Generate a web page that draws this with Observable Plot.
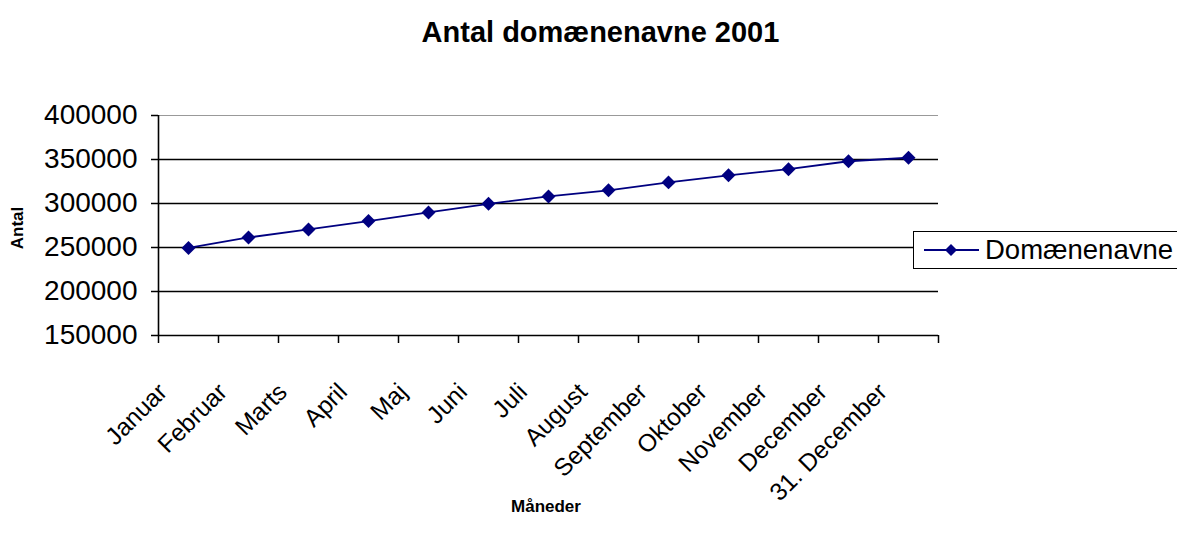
<!DOCTYPE html>
<html>
<head>
<meta charset="utf-8">
<script src="https://cdn.jsdelivr.net/npm/d3@7"></script>
<script src="https://cdn.jsdelivr.net/npm/@observablehq/plot@0.6"></script>
<style>
  body { margin: 0; background: #fff; font-family: "Liberation Sans", Arial, sans-serif; }
  #wrap { position: relative; width: 1177px; height: 545px; overflow: hidden; background: #fff; }
  #chart { position: absolute; left: 0; top: 0; }
  #title { position: absolute; left: 0; width: 1201px; top: 16px; text-align: center; font-weight: bold; font-size: 29px; color: #000; }
  #ytitle { position: absolute; left: 18px; top: 228px; transform: translate(-50%, -50%) rotate(-90deg); font-weight: bold; font-size: 17px; white-space: nowrap; }
  #xtitle { position: absolute; left: 0; width: 1092px; top: 497px; text-align: center; font-weight: bold; font-size: 17px; }
  #legend { position: absolute; left: 913px; top: 231px; width: 290px; height: 36px; border: 1.5px solid #000; background: #fff; }
  #legend svg { position: absolute; left: 9px; top: 7px; }
  #legend span { position: absolute; left: 71px; top: 2px; font-size: 27.5px; white-space: nowrap; }
</style>
</head>
<body>
<div id="wrap">
  <div id="chart"></div>
  <div id="title">Antal domænenavne 2001</div>
  <div id="ytitle">Antal</div>
  <div id="xtitle">Måneder</div>
  <div id="legend">
    <svg width="58" height="22"><line x1="1" x2="56" y1="11" y2="11" stroke="#000080" stroke-width="2"/><path d="M28,5L34,11L28,17L22,11Z" fill="#000080"/></svg>
    <span id="legendText"></span>
  </div>
</div>
<script>
const months = ["Januar", "Februar", "Marts", "April", "Maj", "Juni", "Juli", "August", "September", "Oktober", "November", "December", "31. December"];
const values = [249500, 261400, 270500, 280000, 289800, 299600, 308000, 315000, 324000, 332000, 339000, 348000, 352000];
const seriesName = "Domænenavne";
const yTicks = [150000, 200000, 250000, 300000, 350000, 400000];

const data = months.map((m, i) => ({i, month: m, value: values[i]}));
const boundaries = d3.range(-0.5, months.length, 1);

const plot = Plot.plot({
  width: 1177,
  height: 545,
  marginLeft: 158,
  marginRight: 239,
  marginTop: 115,
  marginBottom: 210,
  style: {fontFamily: "'Liberation Sans', Arial, sans-serif", color: "#000", background: "#fff", overflow: "visible"},
  x: {type: "linear", domain: [-0.5, months.length - 0.5]},
  y: {domain: [150000, 400000]},
  marks: [
    Plot.gridY(yTicks.filter(d => d > 150000 && d < 400000), {stroke: "#000", strokeOpacity: 1, strokeWidth: 1.3}),
    Plot.gridY([400000], {stroke: "#999", strokeOpacity: 1, strokeWidth: 1}),
    Plot.axisY({ticks: yTicks, tickFormat: d => String(d), tickSize: 7, tickPadding: 14, fontSize: 28, label: null, strokeWidth: 1.5}),
    Plot.ruleX([-0.5], {stroke: "#000", strokeWidth: 1.6}),
    Plot.ruleY([150000], {stroke: "#000", strokeWidth: 1.6}),
    Plot.axisX({ticks: boundaries, tickFormat: () => "", tickSize: 8, label: null, strokeWidth: 1.5}),
    Plot.text(data, {x: "i", frameAnchor: "bottom", text: "month", rotate: -45, textAnchor: "end", lineAnchor: "bottom", fontSize: 24.5, dx: -20, dy: 58, fill: "#000"}),
    Plot.line(data, {x: "i", y: "value", stroke: "#000080", strokeWidth: 1.8}),
    Plot.dot(data, {x: "i", y: "value", symbol: "diamond2", r: 6.3, fill: "#000080", stroke: "none"})
  ]
});
document.getElementById("chart").appendChild(plot);
document.getElementById("legendText").textContent = seriesName;
</script>
</body>
</html>
